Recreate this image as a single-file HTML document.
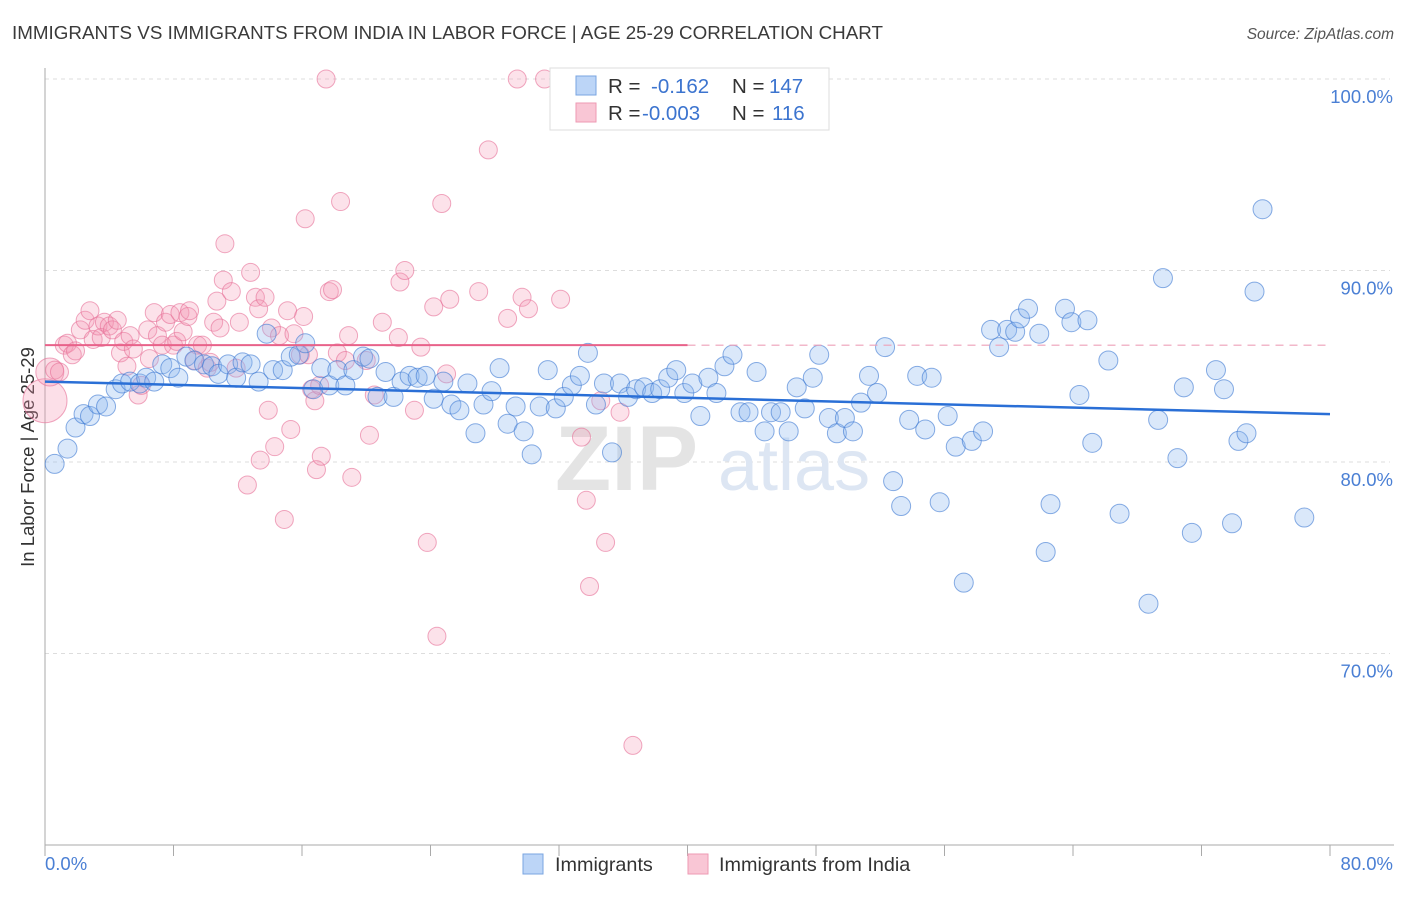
<!DOCTYPE html>
<html><head><meta charset="utf-8">
<style>
body{margin:0;background:#fff;font-family:"Liberation Sans",sans-serif;}
svg text{font-family:"Liberation Sans",sans-serif;}
</style></head>
<body>
<svg id="chart" width="1406" height="892" viewBox="0 0 1406 892" xmlns="http://www.w3.org/2000/svg">
<text x="12" y="39" font-size="18.6" fill="#3a3a3a" textLength="871" lengthAdjust="spacingAndGlyphs">IMMIGRANTS VS IMMIGRANTS FROM INDIA IN LABOR FORCE | AGE 25-29 CORRELATION CHART</text>
<text x="1394" y="39" font-size="15.5" fill="#555" font-style="italic" text-anchor="end">Source: ZipAtlas.com</text>
<text transform="translate(34,457) rotate(-90)" font-size="18.5" fill="#333" text-anchor="middle">In Labor Force | Age 25-29</text>
<g id="grid"></g>
<text x="555" y="490" font-size="92" fill="#e4e4e4" font-family="Liberation Serif" font-weight="bold">ZIP</text>
<text x="718" y="490" font-size="72" fill="#dde6f3">atlas</text>
<g id="axes"></g>
<g id="pinkDots"></g>
<g id="blueDots"></g>
<g id="trends"></g>
<g>
<rect x="550" y="68" width="279" height="62" fill="#fff" stroke="#ddd"/>
<rect x="576" y="76" width="20" height="19" fill="#bcd5f7" stroke="#7aa5e0"/>
<text x="608" y="93" font-size="20.5" fill="#333">R =</text>
<text x="651" y="93" font-size="20.5" fill="#3c74cf">-0.162</text>
<text x="732" y="93" font-size="20.5" fill="#333">N =</text>
<text x="769" y="93" font-size="20.5" fill="#3c74cf">147</text>
<rect x="576" y="103" width="20" height="19" fill="#f9c6d5" stroke="#ee9ab3"/>
<text x="608" y="120" font-size="20.5" fill="#333">R =</text>
<text x="642" y="120" font-size="20.5" fill="#3c74cf">-0.003</text>
<text x="732" y="120" font-size="20.5" fill="#333">N =</text>
<text x="772" y="120" font-size="20.5" fill="#3c74cf">116</text>
</g>
<g>
<rect x="523" y="854" width="20" height="20" fill="#bcd5f7" stroke="#7aa5e0"/>
<text x="555" y="871" font-size="19.8" fill="#333">Immigrants</text>
<rect x="688" y="854" width="20" height="20" fill="#f9c6d5" stroke="#ee9ab3"/>
<text x="719" y="871" font-size="19.8" fill="#333">Immigrants from India</text>
</g>
</svg>
<script>
const yTicks=[100,90,80,70];
const yTickLabels=["100.0%","90.0%","80.0%","70.0%"];
const xTickLabels=["0.0%","80.0%"];
const blueX=[0.6,1.4,1.9,2.4,2.8,3.3,3.8,4.4,4.8,5.3,5.9,6.3,6.8,7.3,7.8,8.3,8.8,9.3,9.9,10.4,10.8,11.4,11.9,12.3,12.8,13.3,13.8,14.2,14.8,15.3,15.8,16.2,16.7,17.2,17.7,18.2,18.7,19.2,19.8,20.2,20.7,21.2,21.7,22.2,22.7,23.2,23.7,24.2,24.8,25.3,25.8,26.3,26.8,27.3,27.8,28.3,28.8,29.3,29.8,30.3,30.8,31.3,31.8,32.3,32.8,33.3,33.8,34.3,34.8,35.3,35.8,36.3,36.8,37.3,37.8,38.3,38.8,39.3,39.8,40.3,40.8,41.3,41.8,42.3,42.8,43.3,43.8,44.3,44.8,45.2,45.8,46.3,46.8,47.3,47.8,48.2,48.8,49.3,49.8,50.3,50.8,51.3,51.8,52.3,52.8,53.3,53.8,54.3,54.8,55.2,55.7,56.2,56.7,57.2,57.7,58.4,58.9,59.4,59.9,60.4,60.7,61.2,61.9,62.3,62.6,63.5,63.9,64.4,64.9,65.2,66.2,66.9,68.7,69.3,69.6,70.5,70.9,71.4,72.9,73.4,73.9,74.3,74.8,75.3,75.8,78.4];
const blueY=[79.9,80.7,81.8,82.5,82.4,83.0,82.9,83.8,84.1,84.2,84.1,84.4,84.2,85.1,84.9,84.4,85.5,85.3,85.1,85.0,84.6,85.1,84.4,85.2,85.1,84.2,86.7,84.8,84.8,85.5,85.6,86.2,83.8,84.9,84.0,84.8,84.0,84.8,85.5,85.4,83.4,84.7,83.4,84.2,84.5,84.4,84.5,83.3,84.2,83.0,82.7,84.1,81.5,83.0,83.7,84.9,82.0,82.9,81.6,80.4,82.9,84.8,82.8,83.4,84.0,84.5,85.7,83.0,84.1,80.5,84.1,83.4,83.8,83.9,83.6,83.8,84.4,84.8,83.6,84.1,82.4,84.4,83.6,85.0,85.6,82.6,82.6,84.7,81.6,82.6,82.6,81.6,83.9,82.8,84.4,85.6,82.3,81.5,82.3,81.6,83.1,84.5,83.6,86.0,79.0,77.7,82.2,84.5,81.7,84.4,77.9,82.4,80.8,73.7,81.1,81.6,86.9,86.0,86.9,86.8,87.5,88.0,86.7,75.3,77.8,88.0,87.3,83.5,87.4,81.0,85.3,77.3,72.6,82.2,89.6,80.2,83.9,76.3,84.8,83.8,76.8,81.1,81.5,88.9,93.2,77.1];
const pinkX=[0.6,0.9,1.2,1.4,1.7,1.9,2.2,2.5,2.8,3.0,3.3,3.5,3.7,4.0,4.2,4.5,4.7,4.9,5.1,5.3,5.5,5.8,6.0,6.4,6.5,6.8,7.0,7.3,7.5,7.8,8.0,8.2,8.4,8.6,8.9,9.0,9.3,9.5,9.8,10.1,10.3,10.5,10.7,10.9,11.1,11.2,11.6,11.9,12.1,12.6,12.8,13.1,13.3,13.4,13.7,13.9,14.1,14.3,14.6,14.9,15.1,15.3,15.5,15.9,16.1,16.2,16.4,16.6,16.8,16.9,17.1,17.2,17.5,17.7,17.9,18.2,18.4,18.7,18.9,19.1,20.0,20.2,20.5,21.0,22.0,22.1,22.4,23.0,23.4,23.8,24.2,24.4,24.7,25.0,25.2,27.0,27.6,28.8,29.4,29.7,30.1,31.1,32.1,33.4,33.7,33.9,34.6,34.9,35.8,36.3,36.6];
const pinkY=[84.8,84.7,86.1,86.2,85.6,85.8,86.9,87.4,87.9,86.4,87.1,86.5,87.3,87.1,86.9,87.4,85.7,86.3,85.0,86.6,85.9,83.5,84.0,86.9,85.4,87.8,86.6,86.1,87.3,87.7,86.1,86.3,87.8,86.8,87.6,87.9,85.3,86.1,86.1,84.9,85.2,87.3,88.4,87.0,89.5,91.4,88.9,84.9,87.3,78.8,89.9,88.6,88.0,80.1,88.6,82.7,87.0,80.8,86.6,77.0,87.9,81.7,86.7,85.6,87.6,92.7,85.6,83.8,83.2,79.6,84.0,80.3,100.0,88.9,89.0,85.7,93.6,85.3,86.6,79.2,85.3,81.4,83.5,87.3,86.5,89.4,90.0,82.7,86.0,75.8,88.1,70.9,93.5,84.6,88.5,88.9,96.3,87.5,100.0,88.6,88.0,100.0,88.5,81.3,78.0,73.5,83.2,75.8,82.6,100.0,65.2];
const pinkBigX=[0.0,0.3];
const pinkBigY=[83.2,84.7];
const blueTrend=[84.2,82.5];
const pinkTrend=[86.1,86.1];
const pinkTrendSolidEnd=40;

const X0=45,X1=1330,Y100=79,PX10=191.5;
const sx=v=>X0+(v/80)*(X1-X0);
const sy=v=>Y100+(100-v)/10*PX10;
const NS="http://www.w3.org/2000/svg";
function mk(tag,attrs,parent){const e=document.createElementNS(NS,tag);for(const k in attrs)e.setAttribute(k,attrs[k]);parent.appendChild(e);return e;}

const grid=document.getElementById('grid');
yTicks.forEach((t,i)=>{
  const l=mk('line',{x1:X0,x2:X1+60,y1:sy(t),y2:sy(t),stroke:'#ddd','stroke-dasharray':'4,4'},grid);
  
  
  const tx=mk('text',{x:1393,y:sy(t)+24,'font-size':18.5,fill:'#4a7fd4','text-anchor':'end'},grid);
  tx.textContent=yTickLabels[i];
  
  
});
const axes=document.getElementById('axes');
mk('line',{x1:X0,x2:X0,y1:68,y2:845,stroke:'#aaa'},axes);
mk('line',{x1:X0,x2:1394,y1:845,y2:845,stroke:'#aaa'},axes);
for(let i=0;i<=10;i++){
  const t=mk('line',{x1:sx(i*8),x2:sx(i*8),y1:845,y2:856,stroke:'#aaa'},axes);
  
  
}
const xl0=mk('text',{x:45,y:870,'font-size':18.5,fill:'#4a7fd4'},axes);xl0.textContent=xTickLabels[0];


const xl1=mk('text',{x:1393,y:870,'font-size':18.5,fill:'#4a7fd4','text-anchor':'end'},axes);xl1.textContent=xTickLabels[1];



const pg=document.getElementById('pinkDots');
pinkBigX.forEach((x,i)=>{
  const c=mk('circle',{cx:sx(x),cy:sy(pinkBigY[i]),r:i===0?22:14,fill:'rgba(244,150,180,0.3)',stroke:'rgba(230,110,150,0.6)','stroke-width':1},pg);
  
  
});
pinkX.forEach((x,i)=>{
  const c=mk('circle',{cx:sx(x),cy:sy(pinkY[i]),r:9,fill:'rgba(244,150,180,0.28)',stroke:'rgba(230,110,150,0.6)','stroke-width':1},pg);
  
  
});
const bg=document.getElementById('blueDots');
blueX.forEach((x,i)=>{
  const c=mk('circle',{cx:sx(x),cy:sy(blueY[i]),r:9.5,fill:'rgba(140,185,240,0.32)',stroke:'rgba(60,120,210,0.6)','stroke-width':1},bg);
  
  
});
const tg=document.getElementById('trends');
const bl=mk('line',{x1:sx(0),y1:sy(blueTrend[0]),x2:sx(80),y2:sy(blueTrend[1]),stroke:'#2a6fd6','stroke-width':2.5},tg);


const ps=mk('line',{x1:sx(0),y1:sy(pinkTrend[0]),x2:sx(pinkTrendSolidEnd),y2:sy(pinkTrend[0]+(pinkTrend[1]-pinkTrend[0])*pinkTrendSolidEnd/80),stroke:'#e8628a','stroke-width':2},tg);


const pd=mk('line',{x1:sx(pinkTrendSolidEnd),y1:sy(pinkTrend[0]+(pinkTrend[1]-pinkTrend[0])*pinkTrendSolidEnd/80),x2:sx(80),y2:sy(pinkTrend[1]),stroke:'#eea0b8','stroke-width':1.2,'stroke-dasharray':'8,6'},tg);


</script>
</body></html>
